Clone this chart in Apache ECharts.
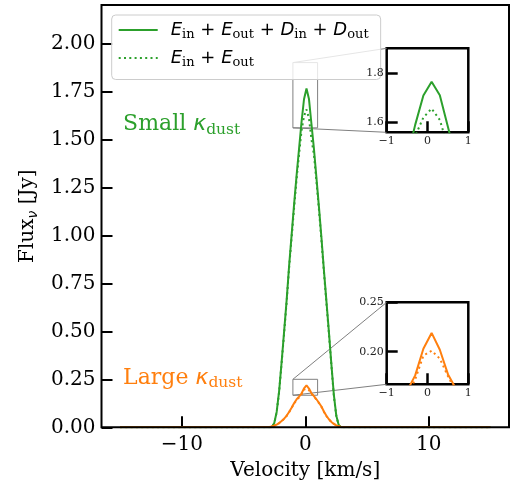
<!DOCTYPE html>
<html><head><meta charset="utf-8">
<script src="https://cdn.jsdelivr.net/npm/echarts@6/dist/echarts.min.js"></script>
<style>html,body{margin:0;padding:0;background:#fff}#c{width:512px;height:486px}</style>
</head><body><div id="c"></div>
<script>
// ---- data ----
const velocity = [-15.0, -2.919, -2.718, -2.517, -2.315, -2.114, -1.913, -1.711, -1.510, -1.309, -1.107, -0.906, -0.705, -0.503, -0.302, -0.101,
                  0.101, 0.302, 0.503, 0.705, 0.906, 1.107, 1.309, 1.510, 1.711, 1.913, 2.114, 2.315, 2.517, 2.718, 2.919, 15.0];
const smallTotal = [0, 0, 0.0, 0.02, 0.08, 0.19, 0.34, 0.50, 0.66, 0.84, 1.00, 1.16, 1.31, 1.45, 1.59, 1.709,
                    1.765, 1.71, 1.58, 1.45, 1.30, 1.15, 0.99, 0.82, 0.66, 0.50, 0.33, 0.17, 0.06, 0.01, 0, 0];
const smallEmission = [0, 0, 0.0, 0.02, 0.078, 0.185, 0.335, 0.49, 0.65, 0.83, 0.985, 1.14, 1.29, 1.42, 1.545, 1.62,
                       1.656, 1.61, 1.50, 1.42, 1.28, 1.135, 0.975, 0.81, 0.65, 0.49, 0.325, 0.165, 0.058, 0.01, 0, 0];
const largeTotal = [0, 0.001, 0.005, 0.008, 0.014, 0.022, 0.033, 0.045, 0.060, 0.080, 0.102, 0.125, 0.145, 0.160, 0.176, 0.203,
                    0.219, 0.202, 0.177, 0.162, 0.146, 0.128, 0.108, 0.082, 0.060, 0.042, 0.028, 0.018, 0.010, 0.005, 0.002, 0];
const largeEmission = [0, 0.001, 0.005, 0.008, 0.014, 0.022, 0.032, 0.044, 0.059, 0.079, 0.100, 0.123, 0.142, 0.155, 0.172, 0.196,
                       0.201, 0.193, 0.175, 0.159, 0.144, 0.126, 0.107, 0.081, 0.059, 0.041, 0.028, 0.018, 0.010, 0.005, 0.002, 0];
const xTicks = [-10, 0, 10];
const yTicks = [0, 0.25, 0.5, 0.75, 1.0, 1.25, 1.5, 1.75, 2.0];
const xRange = [-16.5, 16.5];
const yRange = [0, 2.2];
const zoomXRange = [-1, 1];
const zoomXTicks = [-1, 0, 1];
const zoomSmallRange = [1.56, 1.9];
const zoomSmallTicks = [1.6, 1.8];
const zoomLargeRange = [0.167, 0.25];
const zoomLargeTicks = [0.20, 0.25];
const smallLabelPos = [-14.75, 1.58];
const largeLabelPos = [-14.75, 0.257];

const GREEN = '#2ca02c', ORANGE = '#ff7f0e';
const SERIF = 'DejaVu Serif';
const pairs = arr => velocity.map((v, i) => [v, arr[i]]);
const minus = v => (v < 0 ? '\u2212' + Math.abs(v) : String(v));

function axisPair(gi, xr, yr, xt, yt, xfmt, yfmt, fs, tickLen, lw) {
  const z = gi ? 12 : 0;
  return {
    x: {
      type: 'value', gridIndex: gi, min: xr[0], max: xr[1], z: z,
      axisLine: { show: false, onZero: false }, splitLine: { show: false },
      axisTick: { show: true, inside: true, length: tickLen, customValues: xt, lineStyle: { color: '#000', width: lw } },
      axisLabel: { customValues: xt, formatter: xfmt, fontFamily: SERIF, fontSize: fs, color: gi ? '#222' : '#000', margin: gi ? 3 : 7 }
    },
    y: {
      type: 'value', gridIndex: gi, min: yr[0], max: yr[1], z: z,
      axisLine: { show: false, onZero: false }, splitLine: { show: false },
      axisTick: { show: true, inside: true, length: tickLen, customValues: yt, lineStyle: { color: '#000', width: lw } },
      axisLabel: { customValues: yt, formatter: yfmt, fontFamily: SERIF, fontSize: fs, color: gi ? '#222' : '#000', margin: gi ? 3 : 6 }
    }
  };
}

const a0 = axisPair(0, xRange, yRange, xTicks, yTicks, minus, v => v.toFixed(2), 20, 11, 2);
const a1 = axisPair(1, zoomXRange, zoomSmallRange, zoomXTicks, zoomSmallTicks, minus, v => v.toFixed(1), 11, 11, 2.5);
const a2 = axisPair(2, zoomXRange, zoomLargeRange, zoomXTicks, zoomLargeTicks, minus, v => v.toFixed(2), 11, 11, 2.5);

a0.x.name = 'Velocity [km/s]';
a0.x.nameLocation = 'middle';
a0.x.nameGap = 33;
a0.x.nameTextStyle = { fontFamily: SERIF, fontSize: 20, color: '#000' };
a0.y.name = '{a|Flux}{b|\u03bd}{a| [Jy]}';
a0.y.nameLocation = 'middle';
a0.y.nameGap = 61;
a0.y.nameTextStyle = {
  rich: {
    a: { fontFamily: SERIF, fontSize: 20, color: '#000' },
    b: { fontFamily: 'DejaVu Sans', fontStyle: 'italic', fontSize: 14, color: '#000', padding: [10, 0, 0, 0] }
  }
};

function lineSeries(name, data, color, dotted, gi, z) {
  return {
    type: 'line', name: name, data: pairs(data), xAxisIndex: gi, yAxisIndex: gi,
    showSymbol: false, symbol: 'none', clip: true, silent: true, animation: false, z: z,
    lineStyle: { color: color, width: 2, type: dotted ? [2, 3.3] : 'solid' },
    itemStyle: { color: color }
  };
}

const series = [];
[0, 1].forEach(gi => {
  series.push(lineSeries(gi === 0 ? 'total' : 'total-s' + gi, smallTotal, GREEN, false, gi, 3));
  series.push(lineSeries(gi === 0 ? 'emission' : 'emission-s' + gi, smallEmission, GREEN, true, gi, 3));
});
[0, 2].forEach(gi => {
  series.push(lineSeries('total-l' + gi, largeTotal, ORANGE, false, gi, 4));
  series.push(lineSeries('emission-l' + gi, largeEmission, ORANGE, true, gi, 4));
});

const legendRich = {
  e: { fontFamily: 'DejaVu Sans', fontStyle: 'italic', fontSize: 18, color: '#000', lineHeight: 22 },
  p: { fontFamily: 'DejaVu Sans', fontSize: 18, color: '#000', lineHeight: 22 },
  s: { fontFamily: SERIF, fontSize: 13, color: '#000', padding: [10, 0, 0, 0] }
};

const option = {
  animation: false,
  backgroundColor: '#fff',
  grid: [
    { left: 101.5, top: 5, width: 407.5, height: 422.3, show: true, borderColor: '#000', borderWidth: 2, backgroundColor: 'transparent', z: 5 },
    { left: 386.7, top: 48.3, width: 81.6, height: 84, show: true, borderColor: '#000', borderWidth: 2.5, backgroundColor: '#fff' },
    { left: 386.7, top: 302.3, width: 81.6, height: 82, show: true, borderColor: '#000', borderWidth: 2.5, backgroundColor: '#fff' }
  ],
  xAxis: [a0.x, a1.x, a2.x],
  yAxis: [a0.y, a1.y, a2.y],
  legend: {
    orient: 'vertical', left: 111.7, top: 15, data: ['total', 'emission'],
    itemWidth: 39, itemHeight: 14, itemGap: 7.5,
    padding: [6, 12, 10, 6],
    itemStyle: { opacity: 0 },
    backgroundColor: 'rgba(255,255,255,0.8)', borderColor: '#cccccc', borderWidth: 1, borderRadius: 4,
    selectedMode: false, z: 10,
    formatter: n => n === 'total'
      ? '{e|E}{s|in}{p| + }{e|E}{s|out}{p| + }{e|D}{s|in}{p| + }{e|D}{s|out}'
      : '{e|E}{s|in}{p| + }{e|E}{s|out}',
    textStyle: { padding: [0, 0, 0, 8], rich: legendRich }
  },
  series: series
};

const chart = echarts.init(document.getElementById('c'), null, { renderer: 'canvas' });
chart.setOption(option);

// indicator boxes, connector lines and annotations, positioned through the axes
function px(gi, p) { return chart.convertToPixel({ gridIndex: gi }, p); }
function zoomMarks(gi, yr) {
  const tl = px(0, [zoomXRange[0], yr[1]]), br = px(0, [zoomXRange[1], yr[0]]);
  const itl = px(gi, [zoomXRange[0], yr[1]]), ibl = px(gi, [zoomXRange[0], yr[0]]);
  const st = { stroke: '#808080', lineWidth: 1, fill: null };
  return [
    { type: 'rect', shape: { x: tl[0], y: tl[1], width: br[0] - tl[0], height: br[1] - tl[1] }, style: st, z: 1, silent: true },
    { type: 'line', shape: { x1: tl[0], y1: tl[1], x2: itl[0], y2: itl[1] }, style: st, z: 1, silent: true },
    { type: 'line', shape: { x1: tl[0], y1: br[1], x2: ibl[0], y2: ibl[1] }, style: st, z: 1, silent: true }
  ];
}
function annot(pos, word, color) {
  const p = px(0, pos);
  return {
    type: 'text', x: p[0], y: p[1], z: 6, silent: true,
    style: {
      text: '{a|' + word + ' }{k|\u03ba}{s|dust}', verticalAlign: 'middle', align: 'left',
      rich: {
        a: { fontFamily: SERIF, fontSize: 22, fill: color, lineHeight: 26 },
        k: { fontFamily: 'DejaVu Sans', fontStyle: 'italic', fontSize: 22, fill: color, lineHeight: 26 },
        s: { fontFamily: SERIF, fontSize: 15.5, fill: color, padding: [11, 0, 0, 0] }
      }
    }
  };
}
chart.setOption({
  graphic: [].concat(
    zoomMarks(1, zoomSmallRange),
    zoomMarks(2, zoomLargeRange),
    [annot(smallLabelPos, 'Small', GREEN), annot(largeLabelPos, 'Large', ORANGE)]
  )
});
</script></body></html>
